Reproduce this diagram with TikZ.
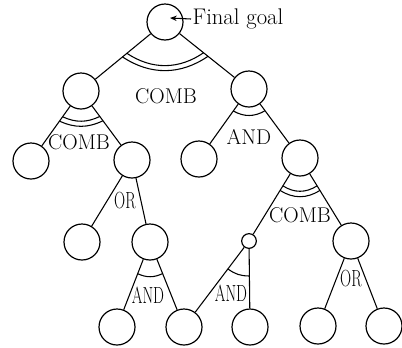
\documentclass[tikz,border=0pt]{standalone}
\usetikzlibrary{calc,arrows.meta}
% angle mark between the two edges leaving #1 towards #2 and #3,
% at distance #4 from #1, bent by #5 degrees
\newcommand\anglemark[5]{%
  \draw[edge] ($(#1)!#4!(#2)$) to[bend right=#5] ($(#1)!#4!(#3)$);}
\begin{document}
\begin{tikzpicture}[x=0.75pt,y=-0.75pt,
  goalnode/.style={circle,draw,line width=0.9pt,minimum size=27pt,inner sep=0pt},
  dotnode/.style={circle,draw,line width=0.9pt,minimum size=11pt,inner sep=0pt},
  edge/.style={line width=0.8pt},
  lab/.style={font=\fontsize{16}{16}\selectfont,inner sep=0pt},
  narrowlab/.style={font=\fontsize{17.5}{17}\selectfont,inner sep=0pt,xscale=0.66},
]
\useasboundingbox (0,0) rectangle (402,347);

% goal tree
\node[goalnode] (r)   at (165,22)  {};
\node[goalnode] (a)   at (81,91)   {};
\node[goalnode] (b)   at (249,89)  {};
\node[goalnode] (a1)  at (31,161)  {};
\node[goalnode] (a2)  at (132,160) {};
\node[goalnode] (b1)  at (199,159) {};
\node[goalnode] (b2)  at (300,158) {};
\node[goalnode] (a21) at (82,242)  {};
\node[goalnode] (a22) at (150,242) {};
\node[dotnode]  (c)   at (249,241) {};
\node[goalnode] (b22) at (351,241) {};
\node[goalnode] (l1)  at (117,327) {};
\node[goalnode] (l2)  at (184,327) {};
\node[goalnode] (l3)  at (250,327) {};
\node[goalnode] (l4)  at (318,326) {};
\node[goalnode] (l5)  at (384,326) {};

% edges
\draw[edge] (r) -- (a);   \draw[edge] (r) -- (b);
\draw[edge] (a) -- (a1);  \draw[edge] (a) -- (a2);
\draw[edge] (b) -- (b1);  \draw[edge] (b) -- (b2);
\draw[edge] (a2) -- (a21); \draw[edge] (a2) -- (a22);
\draw[edge] (b2) -- (c);  \draw[edge] (b2) -- (b22);
\draw[edge] (a22) -- (l1); \draw[edge] (a22) -- (l2);
\draw[edge] (c) -- (l2);  \draw[edge] (c) -- (l3);
\draw[edge] (b22) -- (l4); \draw[edge] (b22) -- (l5);

% COMB: double marks, AND: single marks
\anglemark{r}{a}{b}{41.25pt}{34}
\anglemark{r}{a}{b}{37pt}{34}
\anglemark{a}{a1}{a2}{27.75pt}{25}
\anglemark{a}{a1}{a2}{23.75pt}{25}
\anglemark{b}{b1}{b2}{20.25pt}{30}
\anglemark{b2}{c}{b22}{28.5pt}{33}
\anglemark{b2}{c}{b22}{24.5pt}{33}
\anglemark{a22}{l1}{l2}{25.5pt}{25}
\anglemark{c}{l2}{l3}{26.25pt}{18}

% labels
\node[lab] (t1) at (166,96)  {COMB};
\node[lab] (t2) at (79,142)  {COMB};
\node[lab] (t3) at (249,137) {AND};
\node[narrowlab] (t4) at (125,201) {OR};
\node[lab] (t5) at (300,215) {COMB};
\node[narrowlab] (t6) at (148,295) {AND};
\node[narrowlab] (t7) at (231,293) {AND};
\node[narrowlab] (t8) at (351,279) {OR};

% final goal pointer
\node[font=\fontsize{17}{17}\selectfont,anchor=west,inner sep=1pt] (goal) at (191,19) {Final goal};
\coordinate (tip) at (170,18);
\draw[edge,-{Stealth[length=5pt,width=4pt]}] (goal.west) -- (tip);
\end{tikzpicture}
\end{document}
